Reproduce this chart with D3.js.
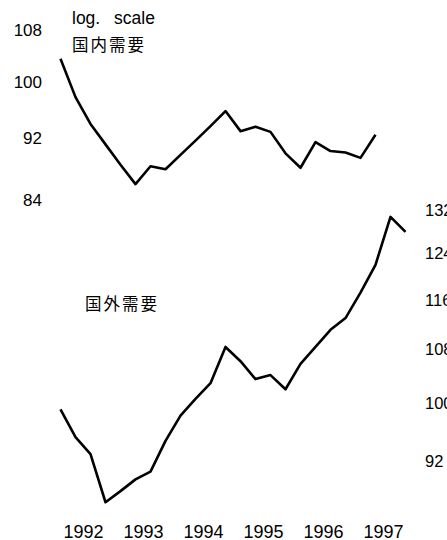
<!DOCTYPE html>
<html>
<head>
<meta charset="utf-8">
<script src="https://cdn.jsdelivr.net/npm/d3@7/dist/d3.min.js"></script>
<style>
  html, body { margin: 0; padding: 0; background: #fff; }
  svg { display: block; }
  .tick text { font-family: "Liberation Sans", Arial, sans-serif; fill: #000; }
  .cjk { font-family: "Noto Sans CJK JP", "Noto Sans CJK SC", sans-serif; fill: #000; }
  .lat { font-family: "Liberation Sans", Arial, sans-serif; fill: #000; }
</style>
</head>
<body>
<svg id="chart" width="447" height="540"></svg>
<script>
// Quarterly observations, 1992Q1 – 1997Q4
const quarters = [
  "1992Q1","1992Q2","1992Q3","1992Q4",
  "1993Q1","1993Q2","1993Q3","1993Q4",
  "1994Q1","1994Q2","1994Q3","1994Q4",
  "1995Q1","1995Q2","1995Q3","1995Q4",
  "1996Q1","1996Q2","1996Q3","1996Q4",
  "1997Q1","1997Q2","1997Q3","1997Q4"
];

// 国内需要 (left axis), through 1997Q2
const domestic = [
  103.5, 97.8, 94.0, 91.2,
  88.5, 86.0, 88.3, 87.9,
  89.8, 91.7, 93.7, 95.8,
  93.0, 93.6, 92.9, 90.0,
  88.1, 91.5, 90.3, 90.1,
  89.4, 92.5
];

// 国外需要 (right axis), through 1997Q4
const foreign = [
  99.1, 95.2, 92.9, 86.7,
  88.1, 89.6, 90.6, 94.7,
  98.2, 100.6, 102.9, 108.4,
  106.2, 103.5, 104.1, 102.0,
  105.8, 108.4, 111.1, 113.0,
  117.2, 122.0, 130.7, 127.9
];

const years = [1992, 1993, 1994, 1995, 1996, 1997];
const leftTicks = [84, 92, 100, 108];
const rightTicks = [92, 100, 108, 116, 124, 132];

const svg = d3.select("#chart");

// quarter label -> mid-quarter position in fractional years
const toYear = q => +q.slice(0, 4) + (+q.slice(5) - 1) / 4 + 0.125;

const x = d3.scaleLinear().domain([1992, 1998]).range([53, 413]);
const yL = d3.scaleLog().domain([84, 108]).range([200, 30]);
const yR = d3.scaleLog().domain([92, 132]).range([461, 210]);

const line = (ys) => d3.line()
  .x((d, i) => x(toYear(quarters[i])))
  .y(d => ys(d));

svg.append("path")
  .datum(domestic)
  .attr("d", line(yL))
  .attr("fill", "none")
  .attr("stroke", "#000")
  .attr("stroke-width", 2.6)
  .attr("stroke-linejoin", "round");

svg.append("path")
  .datum(foreign)
  .attr("d", line(yR))
  .attr("fill", "none")
  .attr("stroke", "#000")
  .attr("stroke-width", 2.6)
  .attr("stroke-linejoin", "round");

// left axis: labels only
const gL = svg.append("g")
  .attr("transform", "translate(42,0)")
  .call(d3.axisLeft(yL).tickValues(leftTicks).tickFormat(d3.format("d")).tickSize(0).tickPadding(0));
gL.select(".domain").remove();
gL.selectAll(".tick text").attr("font-size", 17).attr("x", 0);

// right axis: labels only, running off the right edge
const gR = svg.append("g")
  .attr("transform", "translate(425,0)")
  .call(d3.axisRight(yR).tickValues(rightTicks).tickFormat(d3.format("d")).tickSize(0).tickPadding(0));
gR.select(".domain").remove();
gR.selectAll(".tick text").attr("font-size", 16.5).attr("x", 0);

// year labels centred on each year
const gX = svg.append("g")
  .attr("transform", "translate(0,525)")
  .call(d3.axisBottom(x).tickValues(years.map(y => y + 0.5)).tickFormat(d => String(Math.floor(d))).tickSize(0).tickPadding(0));
gX.select(".domain").remove();
gX.selectAll(".tick text").attr("font-size", 18);

// annotations
svg.append("text")
  .attr("class", "lat")
  .attr("x", 72).attr("y", 24)
  .attr("font-size", 17.5)
  .attr("word-spacing", 9)
  .text("log. scale");

svg.append("text")
  .attr("class", "cjk")
  .attr("x", 72).attr("y", 51)
  .attr("font-size", 16.5)
  .attr("letter-spacing", 2)
  .text("国内需要");

svg.append("text")
  .attr("class", "cjk")
  .attr("x", 85).attr("y", 310)
  .attr("font-size", 16.5)
  .attr("letter-spacing", 2)
  .text("国外需要");
</script>
</body>
</html>
